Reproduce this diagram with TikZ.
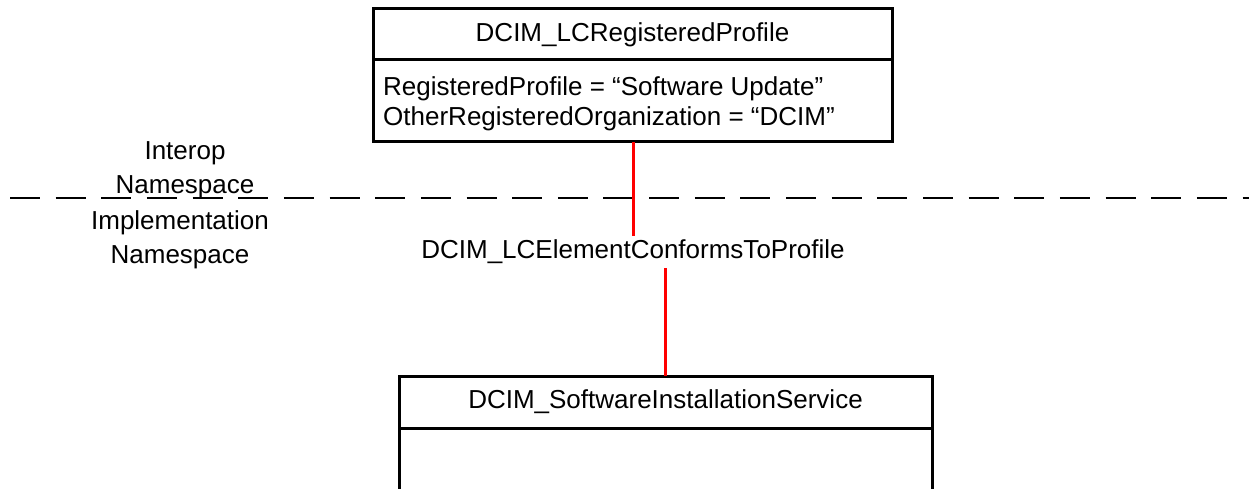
\documentclass[tikz,border=0pt]{standalone}
\usepackage{fontspec}
\setmainfont{Liberation Sans}
\begin{document}
\begin{tikzpicture}[x=1pt,y=-1pt,
  every node/.style={font=\fontsize{26}{34}\selectfont},
  boxpart/.style={draw=black,line width=3pt,rectangle,inner sep=0pt,outer sep=0pt},
  assoc/.style={draw=red,line width=3pt},
  lbl/.style={inner sep=0pt,align=center}]
\useasboundingbox (0,0) rectangle (1249,489);
\clip (0,0) rectangle (1249,489);
% separator
\draw[line width=2pt,dash pattern=on 30pt off 15.65pt] (10,198) -- (1249,198);
\node[lbl] (interop) at (185,170) {Interop\\Namespace};
\node[lbl] (impl) at (180,240) {Implementation\\Namespace};
% top class
\node[boxpart,minimum width=519pt,minimum height=51pt] (th) at (632.5,34.5) {DCIM\_LCRegisteredProfile};
\node[boxpart,minimum width=519pt,minimum height=82pt,anchor=north] (ta) at (th.south) {};
\node[inner sep=0pt,align=left,anchor=west,font=\fontsize{26}{30}\selectfont] (tatext)
  at ([xshift=10pt,yshift=-3pt]ta.west) {RegisteredProfile = “Software Update”\\OtherRegisteredOrganization = “DCIM”};
% bottom class
\node[boxpart,minimum width=533pt,minimum height=52pt] (bh) at (665.5,402) {DCIM\_SoftwareInstallationService};
\node[boxpart,minimum width=533pt,minimum height=120pt,anchor=north] (bb) at (bh.south) {};
% association
\node[inner sep=0pt,minimum height=32pt] (assocl) at (633,252) {DCIM\_LCElementConformsToProfile};
\draw[assoc] (ta.south -| assocl.north) -- (assocl.north);
\coordinate (a2) at (bh.north |- assocl.south);
\draw[assoc] (a2) -- (bh.north);
\end{tikzpicture}
\end{document}
